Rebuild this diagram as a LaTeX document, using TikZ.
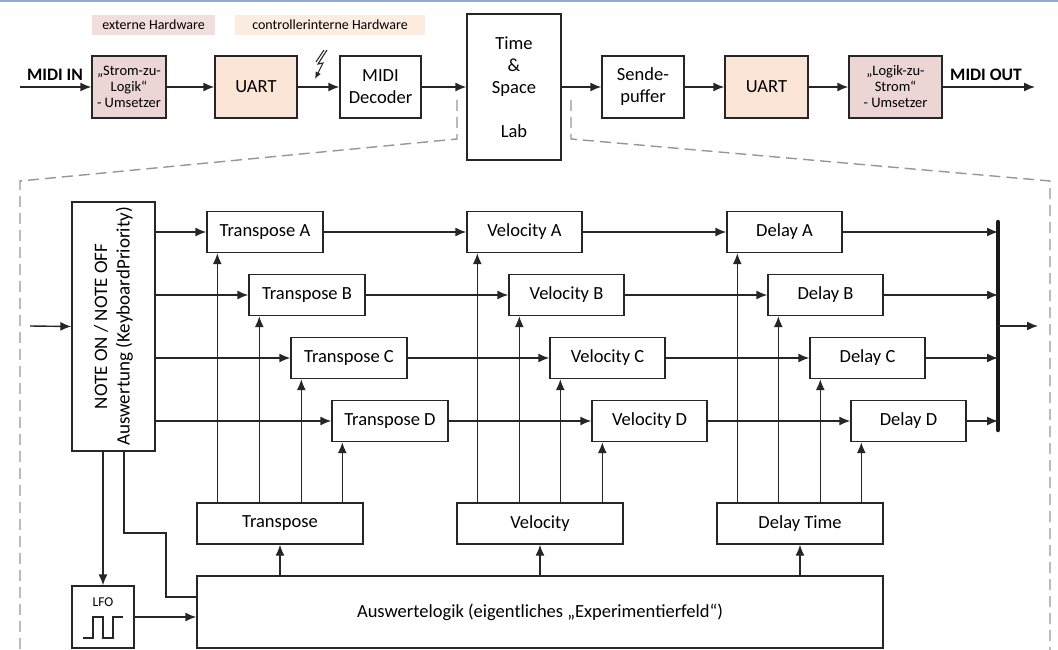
\documentclass[tikz,border=0pt]{standalone}
\usepackage{fontspec}
\setmainfont{Carlito}
\usetikzlibrary{arrows.meta,calc}

\definecolor{pinkfill}{RGB}{236,213,213}
\definecolor{peachfill}{RGB}{251,229,214}
\definecolor{pinklabel}{RGB}{242,222,221}
\definecolor{peachlabel}{RGB}{253,236,224}
\definecolor{topline}{RGB}{142,170,219}
\definecolor{dashgray}{RGB}{150,150,150}

\tikzset{
  box/.style={draw=black!85, line width=1.4pt, fill=white, inner sep=0pt,
              font=\fontsize{18.5}{22}\selectfont, align=center},
  smallbox/.style={box, font=\fontsize{14.5}{16}\selectfont},
  rowbox/.style={box, minimum width=116, minimum height=41},
  parbox/.style={box, minimum width=166, minimum height=41},
  tag/.style={inner sep=0pt, minimum height=20, font=\fontsize{14}{16}\selectfont},
  arr/.style={line width=1.4pt, draw=black!85, -{Latex[length=11pt,width=9pt]}},
  wire/.style={line width=1.4pt, draw=black!85},
  zoomline/.style={draw=dashgray, line width=1.4pt, dash pattern=on 11pt off 6pt},
  bold/.style={font=\bfseries\fontsize{17.5}{21}\selectfont, inner sep=0pt}
}

\begin{document}
\begin{tikzpicture}[x=1pt,y=-1pt]
\useasboundingbox (0,0) rectangle (1058,650);

% top rule
\draw[topline, line width=2pt] (0,1) -- (1058,1);

% ---------------- signal chain ----------------
\node[tag, fill=pinklabel, minimum width=123] (lblext) at (153.5,25) {externe Hardware};
\node[tag, fill=peachlabel, minimum width=190] (lblint) at (330,25) {controllerinterne Hardware};

\node[smallbox, fill=pinkfill, minimum width=74, minimum height=62] (s2l) at (129,87)
  {„Strom-zu-\\Logik“\\- Umsetzer};
\node[box, fill=peachfill, minimum width=82, minimum height=62] (uart1) at (256,87) {UART};
\node[box, minimum width=81, minimum height=62] (dec) at (380.5,87) {MIDI\\Decoder};
\node[box, minimum width=94, minimum height=146] (lab) at (514,87)
  {Time\\\&\\Space\\[22pt]Lab};
\node[box, minimum width=82, minimum height=62] (send) at (643,87) {Sende-\\puffer};
\node[box, fill=peachfill, minimum width=83, minimum height=62] (uart2) at (766.5,87) {UART};
\node[smallbox, fill=pinkfill, minimum width=93, minimum height=62] (l2s) at (895.5,87)
  {„Logik-zu-\\Strom“\\- Umsetzer};

\node[bold] (midiin) at (55,75) {MIDI IN};
\node[bold] (midiout) at (986,75) {MIDI OUT};
\coordinate (inend) at (20,87);
\coordinate (outend) at (1035,87);

\draw[arr] (inend) -- (s2l.west);
\draw[arr] (s2l) -- (uart1);
\draw[arr] (uart1) -- (dec);
\draw[arr] (dec.east) -- (dec.east -| lab.west);
\draw[arr] (lab.east |- send.west) -- (send.west);
\draw[arr] (send) -- (uart2);
\draw[arr] (uart2) -- (l2s);
\draw[arr] (l2s.east) -- (outend);

% lightning mark on the serial line
\draw[line width=1.1pt, black!85, -{Latex[length=7pt,width=6pt]}]
  (327,50) -- (318,64) -- (323,63) -- (315,79);
\draw[line width=1.1pt, black!85] (324,50) -- (316,62);

% zoom outline below the lab
\draw[zoomline] (457,100) -- (457,139) -- (20,181) -- (20,652);
\draw[zoomline] (571,100) -- (571,139) -- (1050,181) -- (1050,652);

% ---------------- lab internals ----------------
\node[box, minimum width=83, minimum height=249] (note) at (113.5,326.5) {};
\node[rotate=90, align=center, inner sep=0pt, font=\fontsize{19}{22.5}\selectfont] (notetxt) at (note.center)
  {NOTE ON / NOTE OFF\\Auswertung (KeyboardPriority)};

% four channels: transpose -> velocity -> delay
\node[rowbox] (ta) at (265,232) {Transpose A};
\node[rowbox] (tb) at (307,295) {Transpose B};
\node[rowbox] (tc) at (349,358) {Transpose C};
\node[rowbox] (td) at (390,421) {Transpose D};

\node[rowbox, minimum width=115] (va) at (524.5,232) {Velocity A};
\node[rowbox, minimum width=115] (vb) at (566.5,295) {Velocity B};
\node[rowbox, minimum width=115] (vc) at (607.5,358) {Velocity C};
\node[rowbox, minimum width=115] (vd) at (649.5,421) {Velocity D};

\node[rowbox, minimum width=115] (da) at (784.5,232) {Delay A};
\node[rowbox, minimum width=115] (db) at (825.5,295) {Delay B};
\node[rowbox, minimum width=115] (dc) at (867.5,358) {Delay C};
\node[rowbox, minimum width=115] (dd) at (908.5,421) {Delay D};

% parameter blocks
\node[parbox] (tp) at (280,523.5) {Transpose};
\node[parbox] (vp) at (540,523.5) {Velocity};
\node[parbox] (dp) at (800,523.5) {Delay Time};

\node[box, minimum width=686, minimum height=72] (al) at (540,612)
  {Auswertelogik (eigentliches „Experimentierfeld“)};
\node[box, minimum width=62, minimum height=62] (lfo) at (103,617) {};
\node[inner sep=0pt, font=\fontsize{13.5}{15}\selectfont] (lfotxt) at (103,602) {LFO};
\draw[wire, line width=1.2pt] (83,638) -- (93,638) -- (93,617) -- (103,617) -- (103,638)
  -- (113,638) -- (113,617) -- (123,617);

% summing bus
\coordinate (bustop) at (998,222);
\coordinate (busbot) at (998,430);
\coordinate (busout) at (998,326);
\coordinate (labout) at (1038,326);
\coordinate (labin) at (30,326);
\draw[line width=4.5pt, black!90, line cap=round] (bustop) -- (busbot);

% channel rows
\foreach \t/\v/\d in {ta/va/da, tb/vb/db, tc/vc/dc, td/vd/dd}{
  \draw[arr] (note.east |- \t.west) -- (\t.west);
  \draw[arr] (\t.east) -- (\v.west);
  \draw[arr] (\v.east) -- (\d.west);
  \draw[arr] (\d.east) -- (\d.east -| bustop);
}

% parameter feeds
\foreach \p/\a/\b/\c/\d in {tp/ta/tb/tc/td, vp/va/vb/vc/vd, dp/da/db/dc/dd}{
  \foreach \r in {\a,\b,\c,\d}
    \draw[arr] ([xshift=11pt]\r.south west |- \p.north) -- ([xshift=11pt]\r.south west);
  \draw[arr] (al.north -| \p) -- (\p.south);
}

% input / output of the lab
\draw[arr] (labin) -- (note.west);
\draw[arr] (busout) -- (labout);

% control paths
\coordinate (kink) at (166,533);
\draw[arr] (note.south -| lfo.north) -- (lfo.north);
\draw[wire] ([xshift=10.5pt]note.south) |- (kink) |- ([yshift=15pt]al.west);
\draw[arr] (lfo.east) -- (lfo.east -| al.west);

\end{tikzpicture}
\end{document}
